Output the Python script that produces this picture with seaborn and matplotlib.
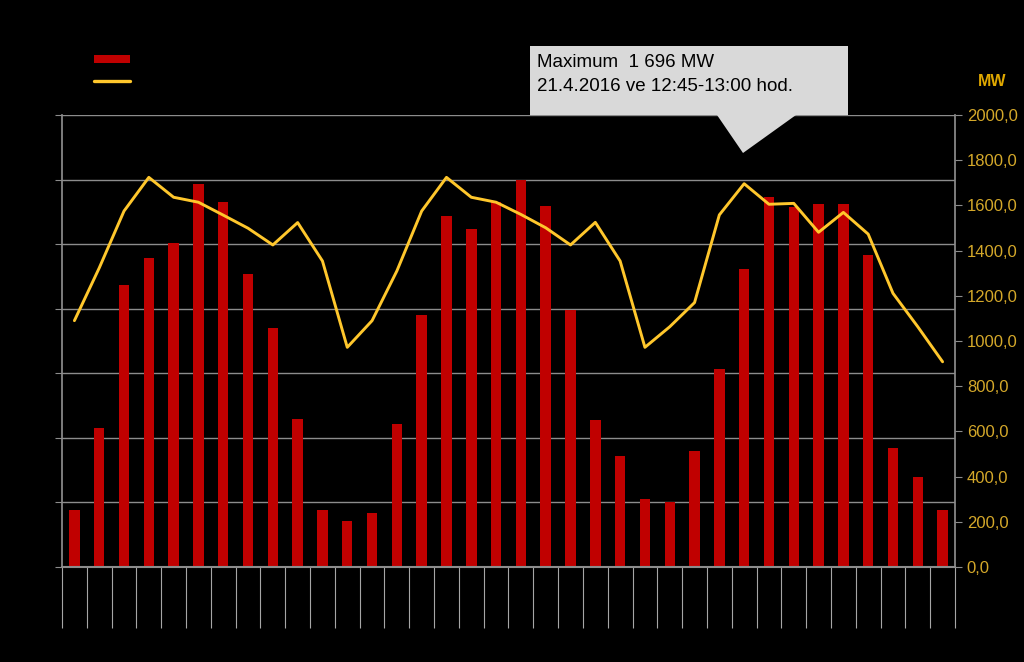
import numpy as np
import pandas as pd
import matplotlib.pyplot as plt
from matplotlib.patches import Polygon, Patch
from matplotlib.lines import Line2D
import seaborn as sns

# monthly values (bars on hidden left scale, line on right MW scale)
months = list(range(1, 37))
bar_vals = [8.8, 21.6, 43.6, 47.9, 50.1, 59.3, 56.6, 45.4, 37.0, 22.9, 8.8, 7.2,
            8.4, 22.1, 39.1, 54.3, 52.3, 56.6, 60.0, 55.9, 39.8, 22.7, 17.2, 10.5,
            10.0, 17.9, 30.7, 46.1, 57.3, 55.8, 56.2, 56.2, 48.3, 18.5, 14.0, 8.8]
max_mw = [1090, 1323, 1575, 1724, 1636, 1614, 1557, 1499, 1425, 1524, 1354, 972,
          1090, 1310, 1575, 1724, 1636, 1614, 1560, 1501, 1425, 1525, 1354, 972,
          1063, 1170, 1558, 1696, 1605, 1609, 1481, 1569, 1473, 1211, 1063, 908]
right_ticks = list(range(0, 2001, 200))
callout = "Maximum  1 696 MW\n21.4.2016 ve 12:45-13:00 hod."

df = pd.DataFrame({"pos": np.arange(len(months)), "month": months,
                   "bar": bar_vals, "mw": max_mw})

sns.set_theme(style="white", rc={"axes.facecolor": "black", "figure.facecolor": "black"})
plt.rcParams["font.family"] = ["Liberation Sans", "DejaVu Sans"]

W, H = 1024, 662
fig = plt.figure(figsize=(W / 100, H / 100), dpi=100)
ax = fig.add_axes([62 / W, 1 - 567 / H, (955 - 62) / W, (567 - 115) / H])
ax.set_facecolor("black")

grey = "#8c8c8c"
sns.barplot(data=df, x="pos", y="bar", color="#C00000", saturation=1, width=0.42,
            linewidth=0, edgecolor="none", ax=ax, zorder=2)
ax.set_xlim(-0.5, len(months) - 0.5)
ax.set_ylim(0, 70)
ax.set_yticks(range(0, 71, 10))
ax.set_yticklabels([])
ax.yaxis.grid(True, color=grey, linewidth=1)
ax.set_axisbelow(True)
ax.set_xticks(np.arange(-0.5, len(months), 1.0))
ax.set_xticklabels([])
ax.tick_params(axis="x", length=44, width=0.8, color="#a6a6a6", direction="out", bottom=True)
ax.tick_params(axis="y", length=5, width=0.8, color=grey, left=True)
ax.set_xlabel("")
ax.set_ylabel("")
for s in ["top", "right"]:
    ax.spines[s].set_visible(False)
ax.spines["left"].set_color(grey)
ax.spines["bottom"].set_color(grey)
ax.spines["bottom"].set_linewidth(1.5)

ax2 = ax.twinx()
sns.lineplot(data=df, x="pos", y="mw", color="#FFC72C", linewidth=2.1, ax=ax2)
ax2.set_ylim(0, 2000)
ax2.set_yticks(right_ticks)
ax2.set_yticklabels([f"{v:.1f}".replace(".", ",") for v in right_ticks])
ax2.tick_params(axis="y", colors="#D4A82A", labelsize=12, length=5, width=0.8, right=True)
ax2.tick_params(axis="y", color=grey)
ax2.set_ylabel("")
ax2.set_xlabel("")
ax2.set_facecolor("none")
for s in ["top", "left", "bottom"]:
    ax2.spines[s].set_visible(False)
ax2.spines["right"].set_color(grey)

fig.text(992 / W, 1 - 81 / H, "MW", color="#E0A800", fontsize=11.5, fontweight="bold",
         ha="center", va="center")

# callout box
px = [(530, 46), (848, 46), (848, 115), (796, 115), (743, 153), (717, 115), (530, 115)]
pts = [(x / W, 1 - y / H) for x, y in px]
fig.add_artist(Polygon(pts, closed=True, transform=fig.transFigure,
                       facecolor="#D9D9D9", edgecolor="none", zorder=5))
fig.text(537 / W, 1 - 54 / H, callout, fontsize=13.5, color="black", va="top",
         ha="left", linespacing=1.55, zorder=6)

handles = [Patch(facecolor="#C00000", edgecolor="none"),
           Line2D([], [], color="#FFC72C", linewidth=2.4)]
fig.legend(handles, ["", ""], loc="upper left", bbox_to_anchor=(81 / W, 1 - 40 / H),
           frameon=False, handlelength=2.6, handleheight=0.5, labelspacing=0.6,
           fontsize=10)

fig.savefig("out.png", dpi=100, facecolor="black")
